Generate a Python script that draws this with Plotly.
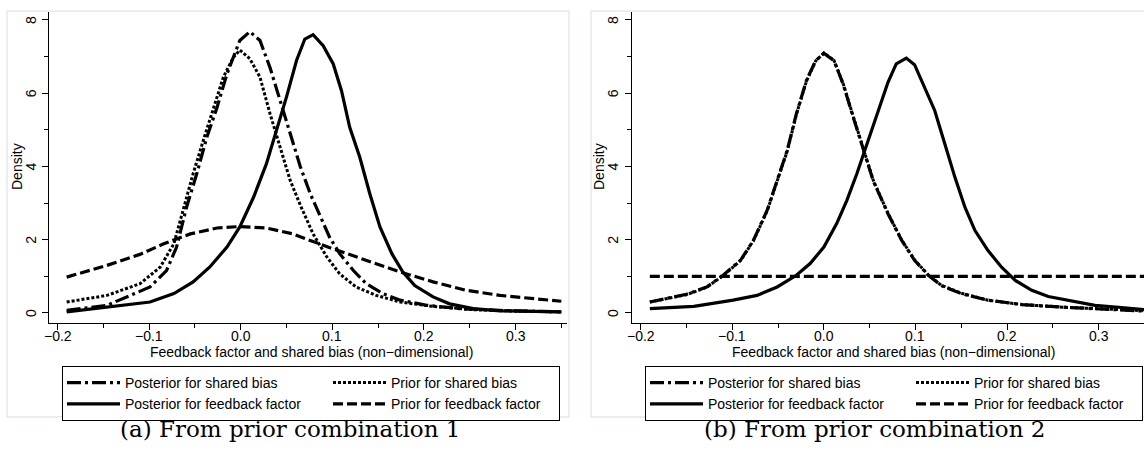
import plotly.graph_objects as go

# ---------------- data ----------------
# Panel (a): prior combination 1
a_post_ff_x = [-0.19, -0.146, -0.099, -0.073, -0.052, -0.034, -0.015, -0.001, 0.014, 0.028, 0.039, 0.05, 0.061,
               0.07, 0.079, 0.09, 0.101, 0.11, 0.119, 0.13, 0.141, 0.152, 0.165, 0.177, 0.19, 0.21, 0.228, 0.254,
               0.283, 0.319, 0.35]
a_post_ff_y = [0.03, 0.15, 0.3, 0.53, 0.85, 1.25, 1.8, 2.35, 3.16, 4.07, 4.98, 5.9, 6.9,
               7.48, 7.6, 7.3, 6.8, 6.07, 5.07, 4.25, 3.25, 2.35, 1.62, 1.12, 0.75, 0.44, 0.25, 0.12,
               0.06, 0.04, 0.03]

a_post_sb_x = [-0.19, -0.146, -0.099, -0.081, -0.07, -0.059, -0.048, -0.037, -0.026, -0.015, -0.001, 0.01, 0.021,
               0.032, 0.043, 0.054, 0.065, 0.076, 0.087, 0.097, 0.108, 0.123, 0.137, 0.155, 0.174, 0.203, 0.239,
               0.283, 0.35]
a_post_sb_y = [0.07, 0.21, 0.71, 1.16, 1.8, 2.9, 3.8, 4.8, 5.6, 6.53, 7.44, 7.68, 7.44,
               6.7, 5.8, 4.9, 4.0, 3.25, 2.62, 2.07, 1.62, 1.16, 0.8, 0.53, 0.35, 0.21, 0.12,
               0.07, 0.03]

a_prior_sb_x = [-0.19, -0.146, -0.11, -0.088, -0.073, -0.063, -0.052, -0.041, -0.03, -0.019, -0.008, -0.001, 0.01,
                0.021, 0.032, 0.043, 0.054, 0.065, 0.079, 0.094, 0.108, 0.126, 0.148, 0.174, 0.21, 0.254, 0.301,
                0.35]
a_prior_sb_y = [0.3, 0.48, 0.8, 1.25, 1.89, 2.8, 3.8, 4.7, 5.6, 6.44, 6.98, 7.18, 6.94,
                6.44, 5.44, 4.53, 3.62, 2.95, 2.16, 1.53, 1.07, 0.71, 0.48, 0.3, 0.18, 0.09, 0.05,
                0.03]

a_prior_ff_x = [-0.19, -0.146, -0.11, -0.084, -0.055, -0.026, -0.001, 0.028, 0.057, 0.065, 0.101, 0.137, 0.174,
                0.21, 0.246, 0.283, 0.319, 0.35]
a_prior_ff_y = [0.98, 1.3, 1.6, 1.89, 2.16, 2.32, 2.36, 2.32, 2.16, 2.08, 1.75, 1.44, 1.12,
                0.85, 0.62, 0.48, 0.39, 0.32]

# Panel (b): prior combination 2
b_post_ff_x = [-0.19, -0.142, -0.099, -0.073, -0.051, -0.03, -0.015, 0.0, 0.014, 0.025, 0.036, 0.047, 0.057,
               0.064, 0.07, 0.079, 0.09, 0.099, 0.11, 0.121, 0.132, 0.143, 0.154, 0.165, 0.179, 0.194, 0.209,
               0.227, 0.245, 0.267, 0.296, 0.325, 0.351]
b_post_ff_y = [0.12, 0.18, 0.35, 0.48, 0.71, 1.03, 1.35, 1.8, 2.44, 3.07, 3.8, 4.62, 5.35,
               5.9, 6.3, 6.8, 6.96, 6.78, 6.16, 5.53, 4.62, 3.71, 2.89, 2.25, 1.71, 1.25, 0.89,
               0.62, 0.45, 0.35, 0.21, 0.15, 0.09]

b_post_sb_x = [-0.19, -0.15, -0.128, -0.11, -0.091, -0.077, -0.062, -0.051, -0.04, -0.03, -0.019, -0.009, 0.0,
               0.011, 0.021, 0.032, 0.043, 0.054, 0.07, 0.085, 0.099, 0.114, 0.128, 0.15, 0.179, 0.216, 0.26,
               0.303, 0.351]
b_post_sb_y = [0.3, 0.51, 0.71, 1.03, 1.44, 1.98, 2.8, 3.62, 4.44, 5.44, 6.35, 6.89, 7.09,
               6.89, 6.25, 5.35, 4.44, 3.6, 2.71, 1.98, 1.44, 1.03, 0.75, 0.53, 0.35, 0.23, 0.16,
               0.11, 0.05]

b_prior_sb_x = [-0.19, -0.15, -0.128, -0.11, -0.091, -0.077, -0.062, -0.051, -0.04, -0.03, -0.019, -0.009, 0.0,
                0.011, 0.021, 0.032, 0.043, 0.054, 0.07, 0.085, 0.099, 0.114, 0.128, 0.15, 0.179, 0.216, 0.26,
                0.303, 0.351]
b_prior_sb_y = [0.3, 0.5, 0.7, 1.02, 1.43, 1.97, 2.78, 3.6, 4.42, 5.42, 6.33, 6.88, 7.1,
                6.9, 6.27, 5.37, 4.46, 3.62, 2.72, 1.99, 1.45, 1.04, 0.76, 0.54, 0.35, 0.23, 0.16,
                0.11, 0.06]

b_prior_ff_x = [-0.19, 0.351]
b_prior_ff_y = [1.0, 1.0]

# labels
series_names = ["Posterior for shared bias", "Prior for shared bias",
                "Posterior for feedback factor", "Prior for feedback factor"]
x_tick_vals = [-0.2, -0.1, 0.0, 0.1, 0.2, 0.3]
x_tick_text = ["\u22120.2", "\u22120.1", "0.0", "0.1", "0.2", "0.3"]
x_minor_vals = [-0.15, -0.05, 0.05, 0.15, 0.25, 0.35]
y_tick_vals = [0, 2, 4, 6, 8]
y_tick_text = ["0", "2", "4", "6", "8"]
y_minor_vals = [1, 3, 5, 7]
x_title = "Feedback factor and shared bias (non\u2212dimensional)"
y_title = "Density"
captions = ["(a) From prior combination 1", "(b) From prior combination 2"]

# ---------------- layout helpers ----------------
W, H = 1144, 458
def px(x):
    return x / W
def py(y):
    return 1 - y / H

FONT = "Liberation Sans, Arial, sans-serif"
styles = {
    "Posterior for shared bias": dict(dash="14px,4px,3px,4px", width=3.2),
    "Prior for shared bias": dict(dash="3px,2px", width=3.0),
    "Posterior for feedback factor": dict(dash="solid", width=3.2),
    "Prior for feedback factor": dict(dash="10px,4px", width=3.2),
}
groups = {
    "Posterior for shared bias": "post",
    "Posterior for feedback factor": "post",
    "Prior for shared bias": "prior",
    "Prior for feedback factor": "prior",
}
lw = {"post": 198, "prior": 163}

fig = go.Figure()

panels = [
    ("x", "y", "legend", [(a_post_sb_x, a_post_sb_y), (a_prior_sb_x, a_prior_sb_y),
                           (a_post_ff_x, a_post_ff_y), (a_prior_ff_x, a_prior_ff_y)]),
    ("x2", "y2", "legend2", [(b_post_sb_x, b_post_sb_y), (b_prior_sb_x, b_prior_sb_y),
                              (b_post_ff_x, b_post_ff_y), (b_prior_ff_x, b_prior_ff_y)]),
]
for xa, ya, lg, data in panels:
    for name, (xs, ys) in zip(series_names, data):
        st = styles[name]
        fig.add_trace(go.Scatter(
            x=xs, y=ys, mode="lines", name=name, xaxis=xa, yaxis=ya,
            line=dict(color="black", width=st["width"], dash=st["dash"]),
            legend=lg, legendgroup=groups[name] + lg, legendwidth=lw[groups[name]],
            showlegend=True, hoverinfo="skip"))

y_dom = [py(322.7), py(12)]
axis_common = dict(showline=True, linecolor="black", linewidth=1, ticks="outside", ticklen=6,
                   tickwidth=1, tickcolor="black", showgrid=False, zeroline=False,
                   showticklabels=False)

fig.update_layout(
    width=W, height=H, margin=dict(l=0, r=0, t=0, b=0),
    paper_bgcolor="white", plot_bgcolor="white",
    font=dict(family=FONT, size=14, color="black"),
    xaxis=dict(domain=[px(49), px(567)], range=[-0.2093, 0.3562], anchor="y",
               tickvals=x_tick_vals,
               minor=dict(tickvals=x_minor_vals, ticks="outside", ticklen=4, tickcolor="black"),
               **axis_common),
    yaxis=dict(domain=y_dom, range=[-0.265, 8.218], anchor="x", tickvals=y_tick_vals,
               minor=dict(tickvals=y_minor_vals, ticks="outside", ticklen=4, tickcolor="black"),
               **axis_common),
    xaxis2=dict(domain=[px(631.7), 1.0], range=[-0.2098, 0.3495], anchor="y2",
                tickvals=x_tick_vals,
                minor=dict(tickvals=x_minor_vals, ticks="outside", ticklen=4, tickcolor="black"),
                **axis_common),
    yaxis2=dict(domain=y_dom, range=[-0.265, 8.218], anchor="x2", tickvals=y_tick_vals,
                minor=dict(tickvals=y_minor_vals, ticks="outside", ticklen=4, tickcolor="black"),
                **axis_common),
    legend=dict(x=px(62), y=py(366), xanchor="left", yanchor="top", orientation="h",
                traceorder="grouped", itemwidth=53, bordercolor="black", borderwidth=1,
                bgcolor="white", font=dict(family=FONT, size=14, color="black"),
                tracegroupgap=0, itemclick=False, itemdoubleclick=False),
    legend2=dict(x=px(645), y=py(366), xanchor="left", yanchor="top", orientation="h",
                 traceorder="grouped", itemwidth=53, bordercolor="black", borderwidth=1,
                 bgcolor="white", font=dict(family=FONT, size=14, color="black"),
                 tracegroupgap=0, itemclick=False, itemdoubleclick=False),
    showlegend=True,
)

# light panel frames
fig.add_shape(type="rect", xref="paper", yref="paper", x0=px(7), x1=px(569), y0=py(417), y1=py(11),
              line=dict(color="#e3e8f1", width=1.5), layer="below")
fig.add_shape(type="rect", xref="paper", yref="paper", x0=px(591), x1=px(1150), y0=py(417), y1=py(11),
              line=dict(color="#e3e8f1", width=1.5), layer="below")

tick_font = dict(family=FONT, size=14, color="black")
# tick labels placed on the library's axis scales
for xref, yref, ylab_x in [("x", "y", 31), ("x2", "y2", 613)]:
    for v, t in zip(x_tick_vals, x_tick_text):
        fig.add_annotation(x=v, xref=xref, y=py(336), yref="paper", text=t, showarrow=False,
                           xanchor="center", yanchor="middle", font=tick_font)
    for v, t in zip(y_tick_vals, y_tick_text):
        fig.add_annotation(x=px(ylab_x), xref="paper", y=v, yref=yref, text=t, textangle=-90,
                           showarrow=False, xanchor="center", yanchor="middle", font=tick_font)

# axis titles and captions
for cx_title in [311, 893]:
    fig.add_annotation(x=px(cx_title), y=py(352), xref="paper", yref="paper", text=x_title,
                       showarrow=False, xanchor="center", yanchor="middle", font=tick_font)
for cx in [17, 599]:
    fig.add_annotation(x=px(cx), y=py(167), xref="paper", yref="paper", text=y_title, textangle=-90,
                       showarrow=False, xanchor="center", yanchor="middle", font=tick_font)
for cx, cap in zip([290, 874], captions):
    fig.add_annotation(x=px(cx), y=py(429), xref="paper", yref="paper", text=cap,
                       showarrow=False, xanchor="center", yanchor="middle",
                       font=dict(family="DejaVu Serif", size=23, color="black"))

fig.write_html("out.html")
